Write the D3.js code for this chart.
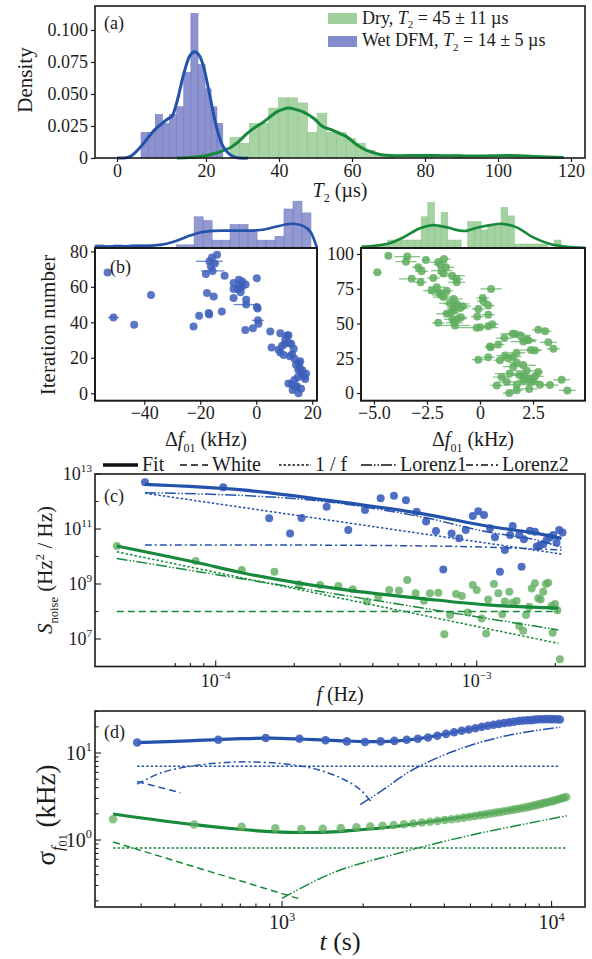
<!DOCTYPE html>
<html><head><meta charset="utf-8">
<script src="https://cdn.jsdelivr.net/npm/d3@7/dist/d3.min.js"></script>
<style>
html,body{margin:0;padding:0;background:#fff;}
svg{display:block;}
</style></head>
<body>
<svg id="chart" width="592" height="959"></svg>
<script>
// ================= DATA =================
// (a) T2 histograms (density) and KDE curves
const wetBinStart = 5.4, wetBinWidth = 1.6;
const wetDensity = [0.020,0.020,0.034,0.027,0.034,0.040,0.067,0.113,0.073,0.054,0.040,0.027];
const dryBinStart = 26.6, dryBinWidth = 2.65;
const dryDensity = [0.016,0.0115,0.027,0.027,0.039,0.047,0.047,0.043,0.020,0.035,0.020,0.020,0.015,0.0115,0.006,0.002,0.002,0,0,0,0.003,0,0,0.003,0,0,0,0,0,0.003];
const wetKdeX = [0,2.9,5.4,8.2,11.2,12.4,13.4,15.1,16.4,17.5,18.5,19.4,21.1,22.9,24.7,27.5,31.5];
const wetKdeY = [0,0.001,0.009,0.021,0.030,0.033,0.043,0.067,0.080,0.083,0.080,0.072,0.048,0.024,0.009,0.001,0];
const dryKdeX = [13.5,17,20.2,23.5,26.6,29,31.2,33.5,35.7,37.5,39.4,41,42.7,44.5,46.6,49.5,52,54.5,56.7,58.5,61,63,65.5,67.7,72,78.9,85,92.6,98,103,110,118];
const dryKdeY = [0,0.0006,0.002,0.0045,0.008,0.013,0.019,0.024,0.028,0.032,0.036,0.038,0.039,0.038,0.036,0.031,0.0245,0.022,0.019,0.0167,0.011,0.0073,0.0045,0.0028,0.0018,0.002,0.0018,0.0015,0.0017,0.0019,0.0012,0.0004];
const aTicksX = [0,20,40,60,80,100,120];
const aTicksY = [0,0.025,0.05,0.075,0.1];

// (b) left: wet DFM frequency shift (kHz) vs iteration
const wetShift = [-53.1,-51.0,-43.6,-37.6,-22.4,-20.4,-18.0,-17.6,-17.0,-16.8,-16.7,-16.2,-15.8,-15.2,-15.6,-14.0,-14.8,-12.3,-11.3,-8.1,-8.1,-8.1,-6.5,-6.2,-6.0,-5.6,-5.2,-5.0,-3.9,-3.6,-3.6,-3.8,-1.2,0.2,0.2,0.5,0.6,0.8,5.0,5.5,8.6,8.0,8.6,9.2,9.8,10.1,11.0,10.4,11.5,11.8,12.0,12.7,12.5,13.4,13.6,13.0,14.0,15.1,15.2,15.5,15.9,15.0,16.4,16.9,17.5,15.7,13.7,12.8,14.5,16.0,11.5,14.2,16.5,17.8,14.8];
const wetIter  = [68.1,42.7,38.6,55.4,37.6,43.7,67.2,56.5,45.2,44.4,74.4,71.5,76.5,54.6,69.0,78.1,73.2,46.1,66.3,53.7,62.2,58.8,58.6,64.0,60.5,57.0,59.7,63.0,35.7,52.7,50.0,61.3,36.7,64.9,48.6,47.8,41.1,39.2,34.8,25.8,33.9,24.5,23.0,26.6,21.6,27.7,32.5,30.5,32.7,28.4,20.9,5.1,27.7,25.1,7.5,1.9,3.7,0.0,17.0,14.5,12.2,13.2,10.8,9.4,8.0,18.0,19.4,22.0,4.0,2.5,5.5,16.0,13.0,11.0,9.0];
const wetErr   = [0,2.0,0,0,0,0,0,0,0,0,4.8,0,0,0,4.2,0,1.5,0,0,0,0,0,0,0,0,0,0,0,0,0,4.5,0,0,0,0,0,2.2,0,0,0,0,0,0,0,0,0,0,0,0,0,0,0,0,0,0,0,0,0,0,0,0,0,0,0,0,0,0,0,0,0,0,0,0,0,0];
const wetMargStart = -57.5, wetMargWidth = 3.21;
const wetMargCounts = [0.8,0,0.8,0,0.8,0,0,0,0,0.8,0.8,8,7,2,2,6,6,4.5,2,2,3,10,12,9];
const wetMargKdeX = [-57.7,-45,-34.3,-29.5,-24.8,-20,-15.2,-10,-4.5,1.4,6.2,11,13.3,16.9,19.3,21.1,21.7];
const wetMargKdeY = [0.4,0.5,0.8,1.6,2.9,4.0,4.4,4.45,4.45,4.6,5.3,6.1,6.2,5.6,4.2,1.3,0];
const bLTicksX = [-40,-20,0,20], bLTicksY = [0,20,40,60,80];

// (b) right: dry frequency shift (kHz) vs iteration
const dryShift = [-4.32,-4.84,-3.43,-3.49,-2.55,-2.91,-2.75,-3.22,-2.80,-2.20,-1.97,-1.86,-1.70,-1.60,-1.81,-1.72,-1.31,-1.10,-1.10,-2.28,-2.04,-1.93,-1.85,-1.72,-1.57,-1.42,-1.23,-1.10,-0.94,-0.82,-1.26,-1.57,-1.39,-1.23,-1.02,-0.90,-1.30,-1.97,-1.18,-1.21,0.13,0.16,0.39,0.52,-0.08,-0.13,0.39,0.0,0.39,0.58,-0.16,-0.08,0.39,0.47,0.50,0.86,1.15,1.54,1.65,1.89,2.20,2.28,2.75,3.07,3.22,3.46,2.40,2.59,2.04,1.73,1.18,0.94,1.33,1.55,1.57,1.73,2.04,2.20,2.75,1.40,1.02,2.04,2.28,2.36,2.04,1.26,0.79,1.73,2.51,2.83,3.30,3.85,4.12,1.73,1.38,2.32,1.85,2.6];
const dryIter  = [98.8,86.8,98.1,94.5,95.7,90.4,87.5,82.1,79.6,82.8,94.0,92.3,96.4,90.4,88,86,84.4,79.6,82,73.7,76.1,72.5,70.5,69,73.5,64.6,67.7,64.1,61.2,62.5,61,57,57.6,59.5,53.4,54.5,53,50.5,48.6,50.5,68.4,66,62.9,74.9,60.5,55,56.3,47.3,48,49.5,47,24,25.7,33.5,33,34.9,39.5,42.6,42.4,41.5,38.5,37.9,45.5,44.5,36.5,31.8,31,30.6,37,29,27,23.6,25,26,19,22,20,16,15.1,14,11.5,12.7,10.5,8,9,8,5.5,6,8.4,6,5.8,9.6,1.9,2,0,3,13,12];
const dryErr   = [0.1,0.2,0.6,0.5,0.2,0.3,0.3,0.6,0.3,0.3,0.4,0.3,0.3,0.4,0.5,0.3,0.6,0.4,0.3,0.4,0.4,0.5,0.4,0.5,0.3,0.5,0.4,0.6,0.4,0.4,0.3,0.5,0.4,0.3,0.4,0.3,0.4,0.3,0.7,0.4,0.3,0.3,0.3,0.5,0.3,0.3,0.3,0.2,0.3,0.3,1.0,0.3,0.3,0.2,0.3,0.3,0.4,0.6,0.4,0.5,0.4,0.4,0.3,0.3,0.4,0.3,0.5,0.3,0.6,0.4,0.4,0.3,0.3,0.4,0.5,0.4,0.6,0.6,0.2,0.7,0.4,0.5,0.4,0.5,0.3,0.4,0.3,0.6,0.3,0.4,0.4,0.4,0.4,0.3,0.3,0.4,0.4,0.4];
const dryMargStart = -5.6, dryMargWidth = 0.314;
const dryMargCounts = [0.5,0.5,0.5,0.9,1.8,1.8,1.8,1.8,1.8,7.1,10.4,4.8,8.1,1.8,1.8,0,6.0,6.0,4.1,5.1,5.1,9.2,7.3,0.9,0.9,0.9,0.9,0.9,0,1.8,0,0,0];
const dryMargKdeX = [-5.57,-4.40,-3.62,-2.83,-2.20,-1.57,-0.94,-0.63,-0.32,0.47,1.02,1.73,2.51,3.30,4.09,4.95];
const dryMargKdeY = [0.3,0.9,2.4,4.5,5.2,4.7,3.95,3.9,4.4,5.2,5.5,4.7,2.4,0.9,0.3,0.07];
const bRTicksX = [-5,-2.5,0,2.5], bRTicksY = [0,25,50,75,100];

// (c) noise spectra: log10(f / Hz) and log10(S / (Hz^2/Hz))
const wetSpecLogF = [-4.271,-3.971,-3.795,-3.715,-3.671,-3.575,-3.492,-3.428,-3.368,-3.317,-3.271,-3.230,-3.194,-3.156,-3.128,-3.096,-3.067,-3.042,-3.015,-2.994,-2.972,-2.949,-2.930,-2.911,-2.892,-2.872,-2.862,-2.837,-2.828,-2.819,-2.796,-2.777,-2.770,-2.758,-2.745,-2.732,-2.719,-2.707,-2.694,-2.684,-2.671];
const wetSpecLogS = [12.70,12.52,11.39,10.84,11.40,11.81,10.96,11.69,12.12,12.21,12.05,11.63,11.27,10.93,9.53,10.84,10.66,10.96,11.47,11.65,11.51,11.03,10.70,9.45,10.24,10.78,11.11,10.78,9.63,10.63,10.94,10.90,10.36,10.42,10.45,10.60,10.70,10.78,10.50,10.96,10.87];
const drySpecLogF = [-4.379,-4.077,-3.900,-3.775,-3.680,-3.600,-3.530,-3.475,-3.421,-3.377,-3.335,-3.298,-3.266,-3.234,-3.202,-3.179,-3.147,-3.124,-3.102,-3.079,-3.057,-3.034,-3.015,-3.000,-2.981,-2.964,-2.956,-2.934,-2.917,-2.902,-2.892,-2.875,-2.862,-2.847,-2.837,-2.822,-2.811,-2.799,-2.789,-2.777,-2.764,-2.755,-2.745,-2.735,-2.726,-2.713,-2.709,-2.700,-2.691,-2.681];
const drySpecLogS = [10.38,9.84,9.51,9.45,8.99,8.96,8.93,8.81,8.36,8.54,8.78,8.76,9.15,8.66,8.39,8.66,8.68,7.17,7.87,8.64,8.56,7.96,8.96,8.78,7.75,7.20,8.44,9.00,8.66,7.90,8.36,8.72,8.32,8.38,7.47,7.30,7.87,8.17,8.84,9.03,8.48,8.44,8.72,9.00,9.05,8.20,7.23,8.27,8.05,6.26];
const wetFitLogF = [-4.271,-3.9,-3.575,-3.217,-2.962,-2.77,-2.675];
const wetFitLogS = [12.62,12.42,12.05,11.57,11.11,10.84,10.66];
const wetLor1LogF = [-4.271,-3.9,-3.575,-3.217,-2.962,-2.77,-2.675];
const wetLor1LogS = [12.32,12.22,11.99,11.45,10.90,10.60,10.33];
const wetOneFLogF = [-4.271,-2.675];
const wetOneFLogS = [12.30,10.09];
const wetLor2LogF = [-4.271,-3.5,-3.1,-2.9,-2.675];
const wetLor2LogS = [10.42,10.41,10.37,10.32,10.24];
const dryFitLogF = [-4.379,-4.077,-3.9,-3.68,-3.473,-3.217,-2.962,-2.687];
const dryFitLogS = [10.38,9.79,9.41,9.03,8.75,8.48,8.24,8.12];
const dryOneFLogF = [-4.379,-2.687];
const dryOneFLogS = [10.17,6.84];
const dryLor1LogF = [-4.379,-3.575,-2.687];
const dryLor1LogS = [9.93,8.69,7.33];
const dryWhiteLogF = [-4.379,-2.687];
const dryWhiteLogS = [8.0,8.0];
const legendNames = ["Fit","White","1 / f","Lorenz1","Lorenz2"];

// (d) Allan deviation: t in s, sigma in kHz
const wetAdevT = [290,580,870,1160,1450,1740,2030,2320,2610,2900,3190,3480,3770,4060,4350,4640,4930,5220,5510,5800,6090,6380,6670,6960,7250,7540,7830,8120,8410,8700,8990,9280,9570,9860,10150,10440,10730];
const wetAdevS = [13.2,14.2,14.9,14.6,14.0,13.6,13.4,13.6,13.8,14.2,14.6,15.1,15.8,16.6,17.3,18.0,18.6,19.3,20.0,20.6,21.1,21.6,22.1,22.5,22.9,23.3,23.6,23.8,23.9,24.2,24.4,24.4,24.5,24.5,24.4,24.4,24.3];
const dryAdevT = [236,472,708,944,1180,1416,1652,1888,2124,2360,2596,2832,3068,3304,3540,3776,4012,4248,4484,4720,4956,5192,5428,5664,5900,6136,6372,6608,6844,7080,7316,7552,7788,8024,8260,8496,8732,8968,9204,9440,9676,9912,10148,10384,10620,10856,11092,11328];
const dryAdevS = [1.73,1.51,1.42,1.36,1.34,1.35,1.37,1.40,1.43,1.46,1.49,1.52,1.55,1.59,1.62,1.66,1.70,1.73,1.77,1.81,1.85,1.89,1.93,1.97,2.01,2.05,2.09,2.13,2.17,2.21,2.25,2.29,2.33,2.37,2.42,2.47,2.52,2.57,2.62,2.67,2.72,2.77,2.82,2.88,2.94,3.00,3.06,3.12];
const wetAFitT = [290,450,700,900,1200,1600,2100,2600,3200,4300,6000,8000,10730];
const wetAFitS = [13.2,13.8,14.6,14.8,14.4,13.9,13.5,13.7,14.6,17.2,21.0,23.5,24.3];
const wetAOneFT = [290,10760], wetAOneFS = [7.03,7.03];
const wetAWhiteT = [290,420], wetAWhiteS = [4.7,3.5];
const wetALor2T = [290,360,480,684,1000,1340,1690,1950,2130];
const wetALor2S = [4.4,6.0,7.2,7.9,7.55,6.5,5.0,3.8,2.8];
const wetALor1T = [1950,2390,3020,4300,6650,10760];
const wetALor1S = [2.55,3.84,6.3,10.4,15.6,19.8];
const dryAFitT = [236,472,708,944,1196,1550,2000,2576,3700,4970,6650,8900,11328];
const dryAFitS = [1.99,1.50,1.32,1.24,1.22,1.24,1.32,1.42,1.66,1.88,2.16,2.55,3.07];
const dryAOneFT = [236,11328], dryAOneFS = [0.81,0.81];
const dryAWhiteT = [236,1150], dryAWhiteS = [0.95,0.212];
const dryALor1T = [1000,1545,2773,4966,11400];
const dryALor1S = [0.213,0.42,0.72,1.13,1.90];

// ================= DRAWING =================
const svg = d3.select("#chart");
const FONT = "'Liberation Serif','Times New Roman',Times,serif";
const INK = "#1c1c1c";
const COL = {blueLine:"#2352aa", bluePt:"#3d5fbb", blueBar:"#7880c6",
             greenLine:"#17893a", greenPt:"#5fae5f", greenBar:"#8fc78b"};
const DASH = {white:"7,4", onef:"2.5,2", lor1:"11,2,1.5,2,1.5,2", lor2:"7,3,2,3"};
const zip = (a,b)=>a.map((v,i)=>[v,b[i]]);
const pow10 = a=>a.map(v=>Math.pow(10,v));

function rich(parent, x, y, parts, size, anchor, rot) {
  const t = parent.append("text").attr("x",x).attr("y",y)
    .attr("font-family",FONT).attr("font-size",size).attr("fill",INK)
    .attr("text-anchor",anchor||"start");
  if (rot) t.attr("transform",`rotate(-90,${x},${y})`);
  let cur = 0;
  parts.forEach(p=>{
    if (typeof p === "string") p = {t:p};
    const off = (p.o||0)*size;
    const ts = t.append("tspan").attr("dy", off-cur).attr("font-size", size*(p.s||1)).text(p.t);
    if (p.i) ts.attr("font-style","italic");
    cur = off;
  });
  return t;
}
function frame(x0,y0,x1,y1,w){
  svg.append("rect").attr("x",x0).attr("y",y0).attr("width",x1-x0).attr("height",y1-y0)
    .attr("fill","none").attr("stroke",INK).attr("stroke-width",w||1.6);
}
function linAxis(gen, tx, ty, size){
  const g = svg.append("g").attr("transform",`translate(${tx},${ty})`).call(gen);
  g.attr("font-family",FONT).attr("font-size",size);
  g.select(".domain").remove();
  g.selectAll(".tick line").attr("stroke",INK).attr("stroke-width",1.2);
  g.selectAll(".tick text").attr("fill",INK);
  return g;
}
function bars(g, start, width, vals, xs, ys, base, fill, op){
  g.selectAll(null).data(vals.map((v,i)=>({x0:start+i*width, x1:start+(i+1)*width, v})).filter(d=>d.v>0))
    .join("rect")
    .attr("x",d=>xs(d.x0)).attr("width",d=>Math.max(0,xs(d.x1)-xs(d.x0)))
    .attr("y",d=>ys(d.v)).attr("height",d=>base-ys(d.v))
    .attr("fill",fill).attr("fill-opacity",op)
    .attr("stroke",fill).attr("stroke-width",0.6);
}
function path(g, pts, xs, ys, color, width, dash, curve){
  const line = d3.line().x(d=>xs(d[0])).y(d=>ys(d[1])).curve(curve||d3.curveCatmullRom.alpha(0.5));
  const p = g.append("path").attr("d",line(pts)).attr("fill","none")
    .attr("stroke",color).attr("stroke-width",width).attr("stroke-linejoin","round");
  if (dash) p.attr("stroke-dasharray",dash);
  return p;
}
const expLabel = e => (e<0?"\u2212":"")+Math.abs(e);
function logAxes(xs, ys, box, xMaj, xMin, yMaj, yMin, size, xLabY){
  const g = svg.append("g");
  const tk = (x1,y1,x2,y2)=>g.append("line").attr("x1",x1).attr("y1",y1).attr("x2",x2).attr("y2",y2).attr("stroke",INK).attr("stroke-width",1.1);
  xMaj.forEach(v=>{ tk(xs(v),box[3],xs(v),box[3]-6);
    rich(g, xs(v), xLabY, ["10",{t:expLabel(Math.round(Math.log10(v))),o:-0.42,s:0.62}], size, "middle"); });
  xMin.forEach(v=>tk(xs(v),box[3],xs(v),box[3]-3.5));
  yMaj.forEach(v=>{ tk(box[0],ys(v),box[0]+6,ys(v));
    rich(g, box[0]-3, ys(v)+size*0.33, ["10",{t:expLabel(Math.round(Math.log10(v))),o:-0.42,s:0.62}], size, "end"); });
  yMin.forEach(v=>tk(box[0],ys(v),box[0]+3.5,ys(v)));
}

// ---------- Panel (a) ----------
{
  const g = svg.append("g");
  const xA = d3.scaleLinear().domain([0,20,120]).range([117,206,571]);
  const yA = d3.scaleLinear().domain([0,0.1]).range([158,30]);
  bars(g, dryBinStart, dryBinWidth, dryDensity, xA, yA, 158, COL.greenBar, 0.78);
  bars(g, wetBinStart, wetBinWidth, wetDensity, xA, yA, 158, COL.blueBar, 0.85);
  path(g, zip(dryKdeX,dryKdeY), xA, yA, COL.greenLine, 3);
  path(g, zip(wetKdeX,wetKdeY), xA, yA, COL.blueLine, 3);
  frame(95,6,585,158,1.6);
  linAxis(d3.axisBottom(xA).tickValues(aTicksX).tickSize(4).tickPadding(2), 0, 158, 18);
  linAxis(d3.axisLeft(yA).tickValues(aTicksY).tickFormat(d=>d===0?"0":d3.format(".3f")(d)).tickSize(4).tickPadding(3), 95, 0, 18);
  rich(svg, 32, 80, ["Density"], 21, "middle", true);
  rich(svg, 340, 197, [{t:"T",i:true},{t:"2",o:0.25,s:0.6},{t:" (\u00b5s)"}], 20, "middle");
  rich(svg, 104, 29, ["(a)"], 18);
  g.append("rect").attr("x",328).attr("y",13).attr("width",29).attr("height",11).attr("fill",COL.greenBar).attr("fill-opacity",0.85);
  g.append("rect").attr("x",328).attr("y",36).attr("width",29).attr("height",11).attr("fill",COL.blueBar).attr("fill-opacity",0.9);
  rich(svg, 362, 23.5, ["Dry, ",{t:"T",i:true},{t:"2",o:0.25,s:0.6},{t:" = 45 \u00b1 11 \u00b5s"}], 18);
  rich(svg, 362, 46, ["Wet DFM, ",{t:"T",i:true},{t:"2",o:0.25,s:0.6},{t:" = 14 \u00b1 5 \u00b5s"}], 18);
}

// ---------- Panel (b) ----------
function scatterPanel(box, xDom, yDom, hs, margStart, margW, margCounts, kx, ky, shifts, iters, errs, cBar, cLine, cPt, xt, yt, xfmt, id){
  const g = svg.append("g");
  const xs = d3.scaleLinear().domain(xDom).range([box[0],box[2]]);
  const ys = d3.scaleLinear().domain(yDom).range([box[3],box[1]]);
  bars(g, margStart, margW, margCounts, xs, hs, box[1], cBar, 0.8);
  svg.append("clipPath").attr("id",id).append("rect").attr("x",box[0]-1).attr("y",0).attr("width",box[2]-box[0]+2).attr("height",box[1]+1);
  path(g, zip(kx,ky), xs, hs, cLine, 2.6).attr("clip-path",`url(#${id})`);
  const pts = shifts.map((s,i)=>({x:s,y:iters[i],e:errs[i]}));
  g.selectAll(null).data(pts.filter(d=>d.e>0)).join("line")
    .attr("x1",d=>xs(d.x-d.e)).attr("x2",d=>xs(d.x+d.e)).attr("y1",d=>ys(d.y)).attr("y2",d=>ys(d.y))
    .attr("stroke",cPt).attr("stroke-opacity",0.75).attr("stroke-width",1.3);
  g.selectAll(null).data(pts).join("circle")
    .attr("cx",d=>xs(d.x)).attr("cy",d=>ys(d.y)).attr("r",4)
    .attr("fill",cPt).attr("fill-opacity",0.85);
  frame(box[0],box[1],box[2],box[3],2);
  linAxis(d3.axisBottom(xs).tickValues(xt).tickFormat(xfmt).tickSize(4).tickPadding(2), 0, box[3], 18);
  linAxis(d3.axisLeft(ys).tickValues(yt).tickSize(4).tickPadding(3), box[0], 0, 18);
  rich(svg, (box[0]+box[2])/2, 446, ["\u0394",{t:"f",i:true},{t:"01",o:0.28,s:0.6},{t:" (kHz)"}], 20, "middle");
}
{
  const hL = d3.scaleLinear().domain([0,12]).range([248,201.2]);
  const hR = d3.scaleLinear().domain([0,10.4]).range([248,202.3]);
  scatterPanel([95,248,317,400.7], [-57.6,21.7], [-4.2,81.9], hL, wetMargStart, wetMargWidth, wetMargCounts,
    wetMargKdeX, wetMargKdeY, wetShift, wetIter, wetErr, COL.blueBar, COL.blueLine, COL.bluePt, bLTicksX, bLTicksY, d3.format("d"), "clipL");
  scatterPanel([361,248,585,400.7], [-5.61,4.95], [-5.5,104.3], hR, dryMargStart, dryMargWidth, dryMargCounts,
    dryMargKdeX, dryMargKdeY, dryShift, dryIter, dryErr, COL.greenBar, COL.greenLine, COL.greenPt, bRTicksX, bRTicksY, d=>d===0?"0":d3.format(".1f")(d), "clipR");
  rich(svg, 55, 325, ["Iteration number"], 21, "middle", true);
  rich(svg, 110, 273, ["(b)"], 18);
}

// ---------- Panel (c) ----------
{
  const box = [95,474,585,666.5];
  const g = svg.append("g");
  const xs = d3.scaleLog().domain([Math.pow(10,-4.4625),Math.pow(10,-2.585)]).range([box[0],box[2]]);
  const ys = d3.scaleLog().domain([1e6,1e13]).range([box[3],box[1]]);
  const P = (lf,ls)=>zip(pow10(lf),pow10(ls));
  g.selectAll(null).data(P(wetSpecLogF,wetSpecLogS)).join("circle")
    .attr("cx",d=>xs(d[0])).attr("cy",d=>ys(d[1])).attr("r",4).attr("fill",COL.bluePt).attr("fill-opacity",0.9);
  g.selectAll(null).data(P(drySpecLogF,drySpecLogS)).join("circle")
    .attr("cx",d=>xs(d[0])).attr("cy",d=>ys(d[1])).attr("r",4).attr("fill",COL.greenPt).attr("fill-opacity",0.8);
  path(g, P(wetOneFLogF,wetOneFLogS), xs, ys, COL.blueLine, 1.5, DASH.onef);
  path(g, P(wetLor1LogF,wetLor1LogS), xs, ys, COL.blueLine, 1.5, DASH.lor1);
  path(g, P(wetLor2LogF,wetLor2LogS), xs, ys, COL.blueLine, 1.5, DASH.lor2);
  path(g, P(wetFitLogF,wetFitLogS), xs, ys, COL.blueLine, 3.2);
  path(g, P(dryWhiteLogF,dryWhiteLogS), xs, ys, COL.greenLine, 1.5, DASH.white);
  path(g, P(dryOneFLogF,dryOneFLogS), xs, ys, COL.greenLine, 1.5, DASH.onef);
  path(g, P(dryLor1LogF,dryLor1LogS), xs, ys, COL.greenLine, 1.5, DASH.lor1);
  path(g, P(dryFitLogF,dryFitLogS), xs, ys, COL.greenLine, 3.2);
  frame(box[0],box[1],box[2],box[3],1.6);
  logAxes(xs, ys, box, [1e-4,1e-3], [7e-5,8e-5,9e-5,2e-4,3e-4,4e-4,5e-4,6e-4,7e-4,8e-4,9e-4,2e-3],
          [1e7,1e9,1e11,1e13], [1e8,1e10,1e12], 18, 687);
  rich(svg, 340, 701, [{t:"f",i:true},{t:" (Hz)"}], 20, "middle");
  rich(svg, 52, 570, [{t:"S",i:true},{t:"noise",o:0.28,s:0.6},{t:" (Hz"},{t:"2",o:-0.4,s:0.6},{t:" / Hz)"}], 21, "middle", true);
  rich(svg, 104, 502, ["(c)"], 18);
  // legend
  const lg = svg.append("g");
  const starts = [103,180,279,361,466], lens = [35,28,32,35,32];
  const styles = [{w:3.5,d:null},{w:1.6,d:DASH.white},{w:1.6,d:DASH.onef},{w:1.6,d:DASH.lor1},{w:1.6,d:DASH.lor2}];
  legendNames.forEach((n,i)=>{
    const l = lg.append("line").attr("x1",starts[i]).attr("x2",starts[i]+lens[i]).attr("y1",465).attr("y2",465)
      .attr("stroke","#111").attr("stroke-width",styles[i].w);
    if (styles[i].d) l.attr("stroke-dasharray",styles[i].d);
    rich(lg, starts[i]+lens[i]+4, 471, [n], 20);
  });
}

// ---------- Panel (d) ----------
{
  const box = [95,711,585,907];
  const g = svg.append("g");
  const xs = d3.scaleLog().domain([Math.pow(10,2.306),Math.pow(10,4.124)]).range([box[0],box[2]]);
  const ys = d3.scaleLog().domain([Math.pow(10,-0.770),Math.pow(10,1.483)]).range([box[3],box[1]]);
  path(g, zip(wetAOneFT,wetAOneFS), xs, ys, COL.blueLine, 1.5, DASH.onef);
  path(g, zip(wetAWhiteT,wetAWhiteS), xs, ys, COL.blueLine, 1.5, DASH.white);
  path(g, zip(wetALor2T,wetALor2S), xs, ys, COL.blueLine, 1.5, DASH.lor2);
  path(g, zip(wetALor1T,wetALor1S), xs, ys, COL.blueLine, 1.5, DASH.lor1);
  path(g, zip(dryAOneFT,dryAOneFS), xs, ys, COL.greenLine, 1.5, DASH.onef);
  path(g, zip(dryAWhiteT,dryAWhiteS), xs, ys, COL.greenLine, 1.5, DASH.white);
  path(g, zip(dryALor1T,dryALor1S), xs, ys, COL.greenLine, 1.5, DASH.lor1);
  path(g, zip(wetAFitT,wetAFitS), xs, ys, COL.blueLine, 3.2);
  path(g, zip(dryAFitT,dryAFitS), xs, ys, COL.greenLine, 3.2);
  g.selectAll(null).data(zip(wetAdevT,wetAdevS)).join("circle")
    .attr("cx",d=>xs(d[0])).attr("cy",d=>ys(d[1])).attr("r",4.3).attr("fill",COL.bluePt).attr("fill-opacity",0.9);
  g.selectAll(null).data(zip(dryAdevT,dryAdevS)).join("circle")
    .attr("cx",d=>xs(d[0])).attr("cy",d=>ys(d[1])).attr("r",4.3).attr("fill",COL.greenPt).attr("fill-opacity",0.75);
  frame(box[0],box[1],box[2],box[3],1.6);
  logAxes(xs, ys, box, [1e3,1e4], [300,400,500,600,700,800,900,2000,3000,4000,5000,6000,7000,8000,9000],
          [1,10], [0.2,0.3,0.4,0.5,0.6,0.7,0.8,0.9,2,3,4,5,6,7,8,9,20,30], 20, 929);
  rich(svg, 340, 950, [{t:"t",i:true},{t:" (s)"}], 26, "middle");
  rich(svg, 55, 815, ["\u03c3",{t:"f",i:true,o:0.3,s:0.6},{t:"01",o:0.45,s:0.45},{t:" (kHz)"}], 27, "middle", true);
  rich(svg, 104, 738, ["(d)"], 18);
}
</script>
</body></html>
